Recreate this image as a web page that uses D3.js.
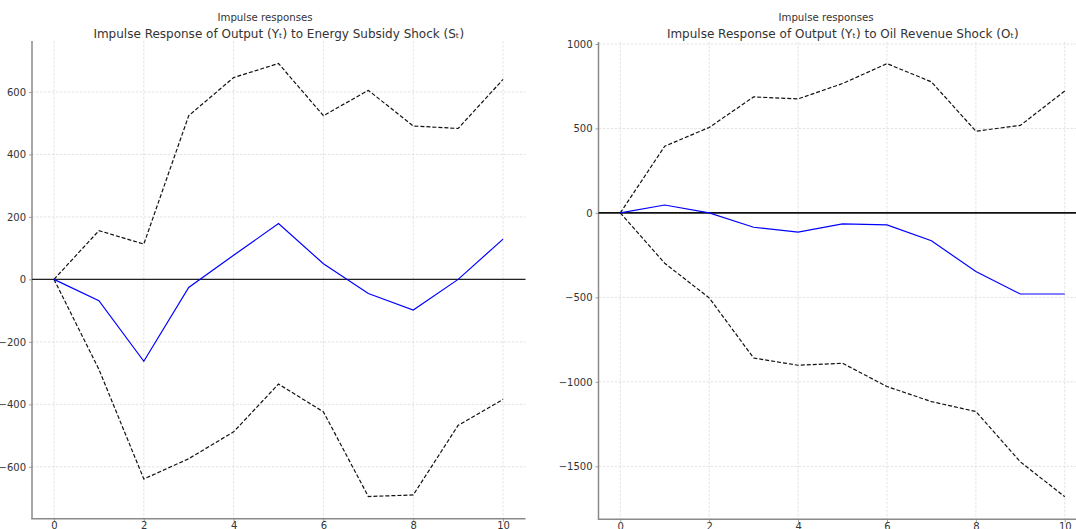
<!DOCTYPE html>
<html>
<head>
<meta charset="utf-8">
<script src="https://cdn.jsdelivr.net/npm/d3@7"></script>
<style>
  html, body { margin: 0; padding: 0; background: #fff; overflow: hidden; }
  svg { display: block; font-family: "DejaVu Sans", sans-serif; }
</style>
</head>
<body>
<svg id="chart" width="1076" height="529"></svg>
<script>
// ---- data ----
const horizons = [0, 1, 2, 3, 4, 5, 6, 7, 8, 9, 10];
const xTicks = [0, 2, 4, 6, 8, 10];

const subsidyIRF   = [0, -68, -262, -26, 77, 179, 50, -45, -98, 0, 129];
const subsidyUpper = [0, 156, 113, 524, 646, 691, 524, 605, 491, 483, 640];
const subsidyLower = [0, -288, -639, -574, -488, -335, -424, -695, -690, -467, -384];
const subsidyYTicks = [-600, -400, -200, 0, 200, 400, 600];

const oilIRF   = [0, 47, 0, -85, -114, -65, -71, -165, -347, -480, -480];
const oilUpper = [0, 395, 506, 687, 675, 766, 884, 776, 484, 518, 722];
const oilLower = [0, -298, -503, -859, -902, -890, -1028, -1117, -1176, -1474, -1680];
const oilYTicks = [-1500, -1000, -500, 0, 500, 1000];

const suptitle = "Impulse responses";
const titles = [
  "Impulse Response of Output (Y\u209C) to Energy Subsidy Shock (S\u209C)",
  "Impulse Response of Output (Y\u209C) to Oil Revenue Shock (O\u209C)"
];

// ---- layout ----
const svg = d3.select("#chart");
const panels = [
  { left: 32, right: 525.5, top: 41, bottom: 518.7, ydom: [-766, 763], xdom: [-0.49, 10.5],
    irf: subsidyIRF, up: subsidyUpper, lo: subsidyLower, yTicks: subsidyYTicks,
    title: titles[0], supX: 265, zeroW: 1.1, zeroC: "#222" },
  { left: 598.5, right: 1087, top: 42, bottom: 519.3, ydom: [-1814, 1012], xdom: [-0.49, 10.5],
    irf: oilIRF, up: oilUpper, lo: oilLower, yTicks: oilYTicks,
    title: titles[1], supX: 826, zeroW: 1.8, zeroC: "#111" }
];

panels.forEach((p, i) => {
  const x = d3.scaleLinear().domain(p.xdom).range([p.left, p.right]);
  const y = d3.scaleLinear().domain(p.ydom).range([p.bottom, p.top]);
  const g = svg.append("g");

  // grid
  g.append("g").selectAll("line.vg").data(xTicks).join("line")
    .attr("x1", d => x(d)).attr("x2", d => x(d))
    .attr("y1", p.top).attr("y2", p.bottom)
    .attr("stroke", "#dcdcdc").attr("stroke-width", 0.8).attr("stroke-dasharray", "2.5,1.5");
  g.append("g").selectAll("line.hg").data(p.yTicks).join("line")
    .attr("x1", p.left).attr("x2", p.right)
    .attr("y1", d => y(d)).attr("y2", d => y(d))
    .attr("stroke", "#dcdcdc").attr("stroke-width", 0.8).attr("stroke-dasharray", "2.5,1.5");

  // axes
  const xAxis = d3.axisBottom(x).tickValues(xTicks).tickSize(3).tickPadding(0.5).tickFormat(d3.format("d"));
  const yAxis = d3.axisLeft(y).tickValues(p.yTicks).tickSize(3).tickPadding(3)
    .tickFormat(d => (d < 0 ? "\u2212" + Math.abs(d) : String(d)));

  const gx = g.append("g").attr("transform", `translate(0,${p.bottom})`).call(xAxis);
  const gy = g.append("g").attr("transform", `translate(${p.left},0)`).call(yAxis);
  [gx, gy].forEach(ax => {
    ax.select(".domain").remove();
    ax.selectAll(".tick line").attr("stroke", "#888").attr("stroke-width", 0.8);
    ax.selectAll(".tick text").attr("fill", "#333").style("font-size", "10px")
      .style("font-family", "'DejaVu Sans', sans-serif");
  });

  // spines
  g.append("line").attr("x1", p.left).attr("x2", p.left).attr("y1", p.top).attr("y2", p.bottom)
    .attr("stroke", "#8a8a8a").attr("stroke-width", 1.5);
  g.append("line").attr("x1", p.left - 0.75).attr("x2", p.right).attr("y1", p.bottom).attr("y2", p.bottom)
    .attr("stroke", "#8a8a8a").attr("stroke-width", 1.5);

  // zero line
  g.append("line").attr("x1", p.left).attr("x2", p.right).attr("y1", y(0)).attr("y2", y(0))
    .attr("stroke", p.zeroC).attr("stroke-width", p.zeroW);

  const line = d3.line().x((d, k) => x(horizons[k])).y(d => y(d));

  // bands
  [p.up, p.lo].forEach(arr => {
    g.append("path").datum(arr).attr("d", line)
      .attr("fill", "none").attr("stroke", "#111").attr("stroke-width", 1.2)
      .attr("stroke-dasharray", "4,2");
  });
  // irf
  g.append("path").datum(p.irf).attr("d", line)
    .attr("fill", "none").attr("stroke", "#0000ff").attr("stroke-width", 1.2);

  // titles
  svg.append("text").attr("x", p.supX).attr("y", 20.5).attr("text-anchor", "middle")
    .style("font-size", "10.2px").attr("fill", "#333").text(suptitle);
  svg.append("text").attr("x", (p.left + p.right) / 2).attr("y", 37.5).attr("text-anchor", "middle")
    .style("font-size", "12px").attr("fill", "#333").text(p.title);
});
</script>
</body>
</html>
